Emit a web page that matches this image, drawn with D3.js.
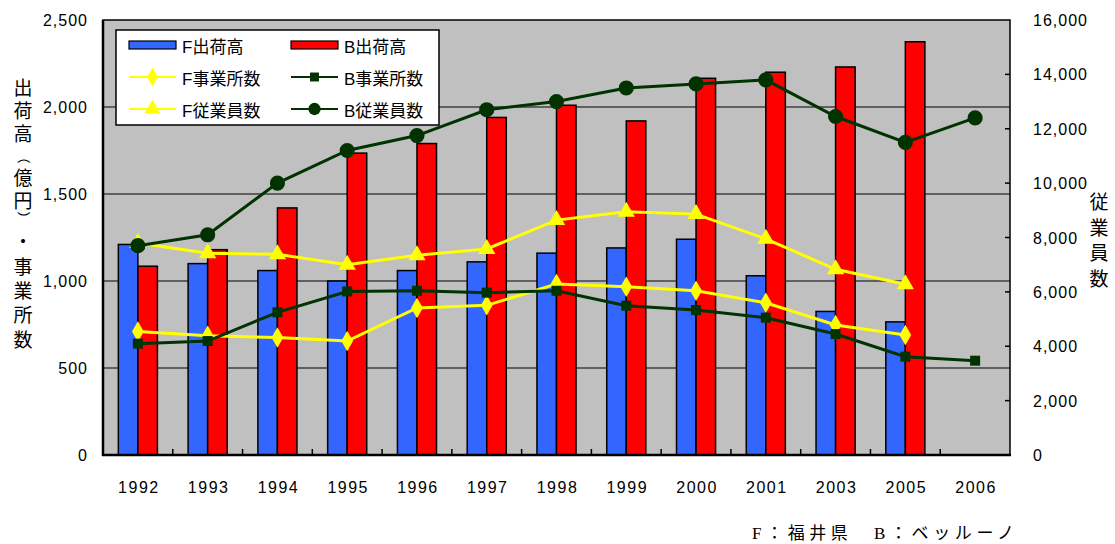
<!DOCTYPE html>
<html><head><meta charset="utf-8">
<script src="https://cdn.jsdelivr.net/npm/d3@7"></script>
<style>
html,body{margin:0;padding:0;background:#fff;}
text{font-family:"Liberation Sans","Noto Sans CJK JP",sans-serif;fill:#000;}
</style></head>
<body><svg id="c" width="1115" height="544"></svg>
<script>
const years = ["1992","1993","1994","1995","1996","1997","1998","1999","2000","2001","2003","2005","2006"];
const fShipment = [1210,1100,1060,1000,1060,1110,1160,1190,1240,1030,825,765,null];
const bShipment = [1085,1180,1420,1735,1790,1940,2010,1920,2165,2200,2230,2375,null];
const fOffices = [710,685,675,655,845,860,983,967,944,875,747,690,null];
const bOffices = [640,655,820,940,944,933,944,858,833,789,695,565,542];
const fEmployees = [7800,7420,7380,7000,7350,7580,8640,8950,8860,7950,6830,6280,null];
const bEmployees = [7700,8100,10000,11200,11750,12700,13000,13500,13650,13800,12450,11500,12400];
const leftTicks = [0,500,1000,1500,2000,2500];
const rightTicks = [0,2000,4000,6000,8000,10000,12000,14000,16000];
const leftTitle = ["出","荷","高","（","億","円","）","・","事","業","所","数"];
const rightTitle = ["従","業","員","数"];
const footer = "F：福井県　B：ベッルーノ";

const svg = d3.select("#c");
const L = 103, R = 1010, T = 20, B = 455;
const x = d3.scaleBand().domain(years).range([L, R]);
const bw = x.bandwidth();
const xb = d3.scaleBand().domain(["F","B"]).range([bw*0.22, bw*0.78]);
const yL = d3.scaleLinear().domain([0,2500]).range([B,T]);
const yR = d3.scaleLinear().domain([0,16000]).range([B,T]);
const cx = d => x(d) + bw/2;

// plot background
svg.append("rect").attr("x",L).attr("y",T).attr("width",R-L).attr("height",B-T).attr("fill","#c0c0c0");
// gridlines
svg.append("g").selectAll("line").data(leftTicks.filter(t=>t>0 && t<2500)).join("line")
  .attr("x1",L).attr("x2",R).attr("y1",d=>yL(d)).attr("y2",d=>yL(d)).attr("stroke","#000").attr("stroke-width",1.2);

// bars
const barData = [];
years.forEach((y,i)=>{
  if (fShipment[i]!=null) barData.push({y, k:"F", v:fShipment[i]});
  if (bShipment[i]!=null) barData.push({y, k:"B", v:bShipment[i]});
});
svg.append("g").selectAll("rect").data(barData).join("rect")
  .attr("x",d=>x(d.y)+xb(d.k)).attr("width",xb.bandwidth())
  .attr("y",d=>yL(d.v)).attr("height",d=>B-yL(d.v))
  .attr("fill",d=>d.k==="F"?"#3366ff":"#ff0000").attr("stroke","#000").attr("stroke-width",1.5);

// border
svg.append("rect").attr("x",L).attr("y",T).attr("width",R-L).attr("height",B-T).attr("fill","none").attr("stroke","#000").attr("stroke-width",1.5);
svg.append("line").attr("x1",L).attr("x2",L).attr("y1",T).attr("y2",B+1).attr("stroke","#000").attr("stroke-width",2.5);
svg.append("line").attr("x1",L-1).attr("x2",R+1).attr("y1",B).attr("y2",B).attr("stroke","#000").attr("stroke-width",2.5);

// x ticks (inward) at band boundaries
svg.append("g").selectAll("line").data(years.slice(1)).join("line")
  .attr("x1",d=>x(d)).attr("x2",d=>x(d)).attr("y1",B).attr("y2",B-6).attr("stroke","#000").attr("stroke-width",1.5);
// x labels
svg.append("g").selectAll("text").data(years).join("text")
  .attr("x",d=>cx(d)+1).attr("y",B+38).attr("text-anchor","middle")
  .attr("font-size",16).attr("letter-spacing",1.5).text(d=>d);

// left axis labels
const fmt = d3.format(",");
svg.append("g").selectAll("text").data(leftTicks).join("text")
  .attr("x",88).attr("y",d=>yL(d)+6).attr("text-anchor","end")
  .attr("font-size",16).attr("letter-spacing",1).text(d=>fmt(d));
// right axis ticks (inward) and labels
svg.append("g").selectAll("line").data(rightTicks.filter(t=>t>0&&t<16000)).join("line")
  .attr("x1",R).attr("x2",R-5).attr("y1",d=>yR(d)).attr("y2",d=>yR(d)).attr("stroke","#000").attr("stroke-width",1.5);
svg.append("g").selectAll("text").data(rightTicks).join("text")
  .attr("x",1033).attr("y",d=>yR(d)+6).attr("text-anchor","start")
  .attr("font-size",16).attr("letter-spacing",1).text(d=>fmt(d));

// titles
const lty = [88,111,134,157,178,201,218,242,267,291,315,340];
svg.append("g").selectAll("text").data(leftTitle).join("text")
  .attr("text-anchor","middle")
  .attr("font-size",(d,i)=> (d==="（"||d==="）") ? 13 : 19)
  .attr("transform",(d,i)=> (d==="（"||d==="）")
      ? `translate(23,${lty[i]}) rotate(90)`
      : `translate(23,${lty[i]+7})`)
  .attr("dy",(d)=> (d==="（"||d==="）") ? 4.5 : 0)
  .text(d=>d);
svg.append("g").selectAll("text").data(rightTitle).join("text")
  .attr("x",1099).attr("y",(d,i)=>202+i*25.5+7).attr("text-anchor","middle")
  .attr("font-size",19).text(d=>d);

// lines
const YELLOW = "#ffff00", GREEN = "#003300";
const series = [
  {name:"F事業所数", vals:fOffices, scale:yL, color:YELLOW, sym:d3.symbolDiamond, size:120},
  {name:"B事業所数", vals:bOffices, scale:yL, color:GREEN, sym:d3.symbolSquare, size:100},
  {name:"F従業員数", vals:fEmployees, scale:yR, color:YELLOW, sym:d3.symbolTriangle, size:130},
  {name:"B従業員数", vals:bEmployees, scale:yR, color:GREEN, sym:d3.symbolCircle, size:180},
];
series.forEach(s=>{
  const pts = years.map((y,i)=>({y, v:s.vals[i]})).filter(p=>p.v!=null);
  const line = d3.line().x(p=>cx(p.y)).y(p=>s.scale(p.v));
  const g = svg.append("g");
  g.append("path").attr("d",line(pts)).attr("fill","none").attr("stroke",s.color).attr("stroke-width",3);
  g.selectAll("path.m").data(pts).join("path").attr("class","m")
    .attr("transform",p=>`translate(${cx(p.y)},${s.scale(p.v)})`)
    .attr("d",d3.symbol().type(s.sym).size(s.size)()).attr("fill",s.color);
});

// legend
const lg = svg.append("g");
lg.append("rect").attr("x",116).attr("y",30).attr("width",323).attr("height",95).attr("fill","#fff").attr("stroke","#000").attr("stroke-width",1.5);
const legendItems = [
  {label:"F出荷高", col:0,row:0, type:"bar", color:"#3366ff"},
  {label:"B出荷高", col:1,row:0, type:"bar", color:"#ff0000"},
  {label:"F事業所数", col:0,row:1, type:"line", color:YELLOW, sym:d3.symbolDiamond, size:100},
  {label:"B事業所数", col:1,row:1, type:"line", color:GREEN, sym:d3.symbolSquare, size:80},
  {label:"F従業員数", col:0,row:2, type:"line", color:YELLOW, sym:d3.symbolTriangle, size:110},
  {label:"B従業員数", col:1,row:2, type:"line", color:GREEN, sym:d3.symbolCircle, size:120},
];
legendItems.forEach(it=>{
  const x0 = it.col===0 ? 129 : 291;
  const yc = 45 + it.row*32;
  if (it.type==="bar") {
    lg.append("rect").attr("x",x0).attr("y",yc-4).attr("width",47).attr("height",8).attr("fill",it.color).attr("stroke","#000").attr("stroke-width",1.2);
  } else {
    lg.append("line").attr("x1",x0).attr("x2",x0+47).attr("y1",yc).attr("y2",yc).attr("stroke",it.color).attr("stroke-width",2);
    lg.append("path").attr("transform",`translate(${x0+23.5},${yc})`).attr("d",d3.symbol().type(it.sym).size(it.size)()).attr("fill",it.color);
  }
  lg.append("text").attr("x",x0+53).attr("y",yc+8).attr("font-size",17).text(it.label);
});

// footer
svg.append("text").attr("x",752).attr("y",539).attr("font-size",17).attr("letter-spacing",4.6)
  .style("font-family",'"Liberation Serif","Noto Sans CJK JP",serif').text(footer);
</script></body></html>
